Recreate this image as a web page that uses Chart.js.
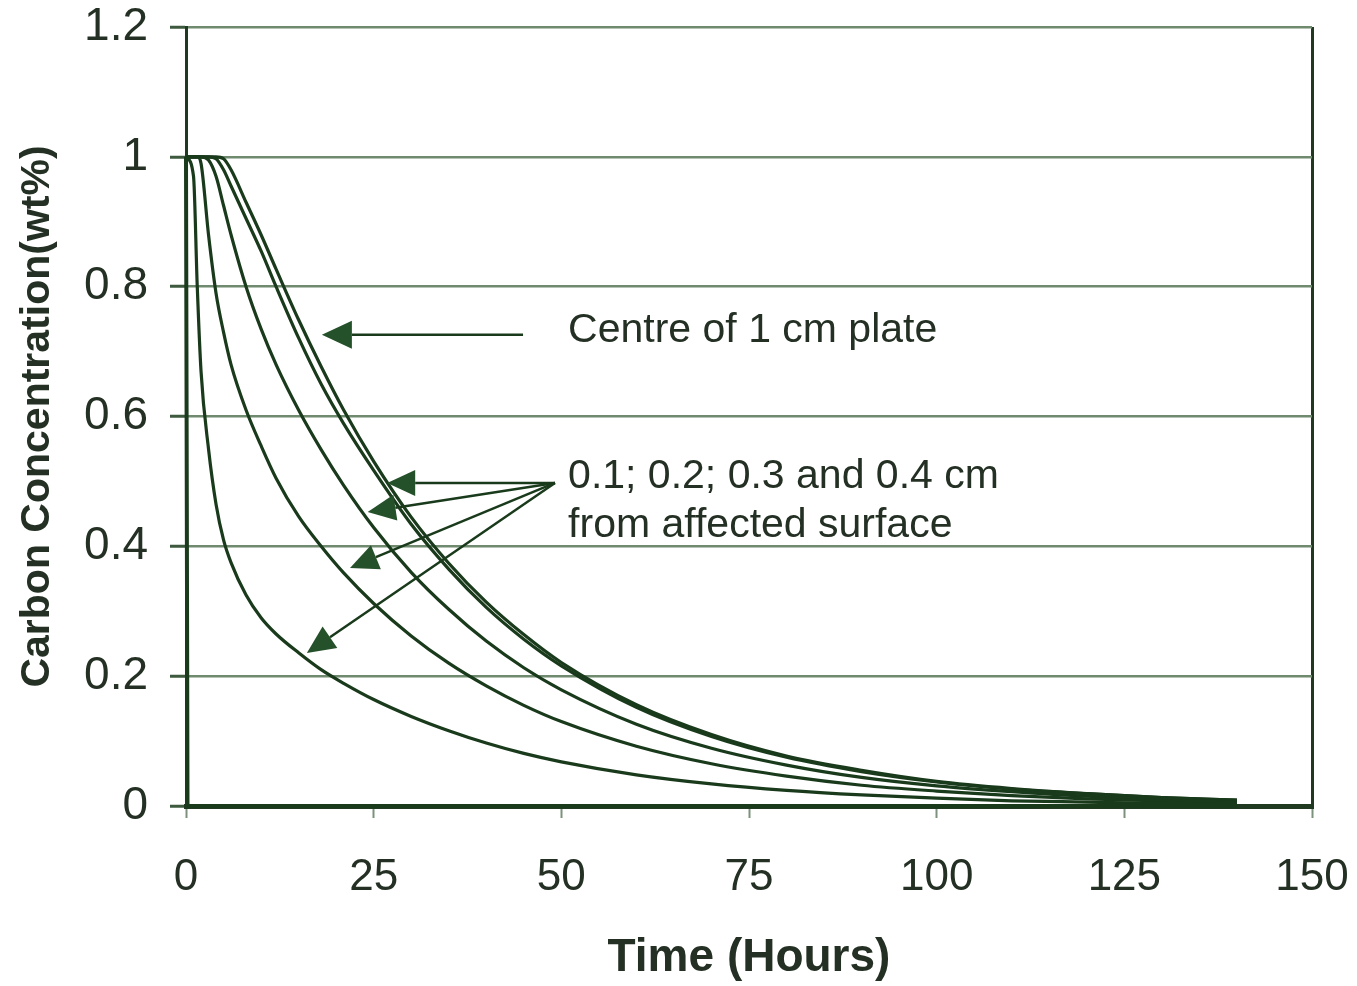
<!DOCTYPE html>
<html>
<head>
<meta charset="utf-8">
<script src="https://cdn.jsdelivr.net/npm/chart.js@4.4.1/dist/chart.umd.min.js"></script>
<style>
  html, body { margin: 0; padding: 0; background: #ffffff; }
  #wrap { width: 1357px; height: 986px; }
</style>
</head>
<body>
<div id="wrap"><canvas id="chart" width="1357" height="986"></canvas></div>
<script>
// ---------- data ----------
const hours = [0, 1, 1.5, 2, 3, 4, 5, 6, 8, 10, 12, 15, 18, 21, 25, 30, 35, 40, 45, 50, 60, 70, 80, 90, 100, 110, 120, 130, 140];
const depth01cm = [1, 0.97, 0.80, 0.67, 0.55, 0.465, 0.41, 0.375, 0.325, 0.29, 0.265, 0.236, 0.21, 0.189, 0.164, 0.138, 0.116, 0.097, 0.081, 0.068, 0.048, 0.034, 0.024, 0.017, 0.012, 0.008, 0.006, 0.004, 0.003];
const depth02cm = [1, 1, 1, 0.99, 0.88, 0.79, 0.73, 0.68, 0.61, 0.555, 0.505, 0.446, 0.40, 0.359, 0.312, 0.262, 0.220, 0.185, 0.155, 0.130, 0.092, 0.065, 0.046, 0.032, 0.023, 0.016, 0.011, 0.008, 0.006];
const depth03cm = [1, 1, 1, 1, 0.995, 0.97, 0.925, 0.88, 0.80, 0.735, 0.68, 0.61, 0.549, 0.494, 0.429, 0.360, 0.303, 0.254, 0.213, 0.179, 0.126, 0.089, 0.063, 0.044, 0.031, 0.022, 0.015, 0.011, 0.008];
const depth04cm = [1, 1, 1, 1, 1, 0.997, 0.98, 0.955, 0.905, 0.855, 0.80, 0.721, 0.650, 0.589, 0.517, 0.434, 0.365, 0.306, 0.257, 0.216, 0.152, 0.107, 0.075, 0.053, 0.037, 0.026, 0.019, 0.013, 0.009];
const centre05cm = [1, 1, 1, 1, 1, 1, 0.997, 0.98, 0.93, 0.88, 0.827, 0.749, 0.677, 0.610, 0.531, 0.445, 0.374, 0.314, 0.264, 0.221, 0.156, 0.110, 0.077, 0.055, 0.038, 0.027, 0.019, 0.013, 0.009];
const surfaceHours = [0, 0.2, 140];
const surfaceValues = [1, 0, 0];
const xTickLabels = ['0', '25', '50', '75', '100', '125', '150'];
const yTickLabels = ['0', '0.2', '0.4', '0.6', '0.8', '1', '1.2'];

// ---------- styles ----------
const FONT = '"Liberation Sans", Arial, Helvetica, sans-serif';
const TEXT = '#243024';
const CURVE = '#1a3a1c';
const GRID = '#6f8a6f';
const AXIS = '#1f3a21';

const pts = (xs, ys) => xs.map((t, i) => ({ x: t, y: ys[i] }));
const curve = (label, ys) => ({
  label, data: pts(hours, ys), borderColor: CURVE, borderWidth: 3.2,
  pointRadius: 0, fill: false, cubicInterpolationMode: 'monotone'
});

function drawArrow(ctx, x0, y0, x1, y1, L, W) {
  const dx = x1 - x0, dy = y1 - y0, len = Math.hypot(dx, dy);
  const ux = dx / len, uy = dy / len;
  const bx = x1 - ux * L, by = y1 - uy * L;
  ctx.beginPath(); ctx.moveTo(x0, y0); ctx.lineTo(bx, by); ctx.stroke();
  ctx.beginPath();
  ctx.moveTo(x1, y1);
  ctx.lineTo(bx - uy * W, by + ux * W);
  ctx.lineTo(bx + uy * W, by - ux * W);
  ctx.closePath(); ctx.fill();
}

const notes = {
  id: 'notes',
  afterDatasetsDraw(chart) {
    const { ctx, scales: { x, y } } = chart;
    const px = v => x.getPixelForValue(v), py = v => y.getPixelForValue(v);
    ctx.save();
    ctx.strokeStyle = CURVE; ctx.fillStyle = '#24502a'; ctx.lineWidth = 2.5;
    drawArrow(ctx, px(44.9), py(0.726), px(18.1), py(0.726), 30, 14);
    const ox = 49.15, oy = 0.4977;
    [[26.8, 0.4977], [24.2, 0.453], [21.85, 0.3667], [16.1, 0.2357]].forEach(([tx, ty]) =>
      drawArrow(ctx, px(ox), py(oy), px(tx), py(ty), 28, 13));
    ctx.fillStyle = TEXT;
    ctx.font = '41px ' + FONT;
    ctx.textAlign = 'left'; ctx.textBaseline = 'alphabetic';
    ctx.fillText('Centre of 1 cm plate', px(50.9), py(0.715));
    ctx.fillText('0.1; 0.2; 0.3 and 0.4 cm', px(50.9), py(0.49));
    ctx.fillText('from affected surface', px(50.9), py(0.4145));
    ctx.restore();
  }
};

new Chart(document.getElementById('chart'), {
  type: 'line',
  data: {
    datasets: [
      { label: 'surface', data: pts(surfaceHours, surfaceValues), borderColor: CURVE, borderWidth: 4,
        pointRadius: 0, fill: false, tension: 0, clip: false },
      curve('0.1 cm', depth01cm),
      curve('0.2 cm', depth02cm),
      curve('0.3 cm', depth03cm),
      curve('0.4 cm', depth04cm),
      curve('Centre (0.5 cm)', centre05cm)
    ]
  },
  options: {
    responsive: false,
    animation: false,
    devicePixelRatio: 1,
    layout: { padding: { left: 0, right: 45, top: 27, bottom: 0 } },
    plugins: { legend: { display: false }, tooltip: { enabled: false } },
    scales: {
      x: {
        type: 'linear', min: 0, max: 150,
        afterFit: s => { s.height = 180; s.paddingLeft = 0; s.paddingRight = 0; },
        ticks: {
          stepSize: 25, color: TEXT, padding: 33, maxRotation: 0,
          font: { family: FONT, size: 44 },
          callback: (v) => xTickLabels[Math.round(v / 25)]
        },
        grid: {
          color: c => (c.tick && c.tick.value === 150) ? AXIS : 'rgba(0,0,0,0)',
          lineWidth: 3, tickLength: 12, tickColor: '#7d927d', tickWidth: 2
        },
        border: { display: true, color: AXIS, width: 5 },
        title: {
          display: true, text: 'Time (Hours)', color: TEXT,
          font: { family: FONT, size: 46, weight: 'bold' }, padding: { top: 0, bottom: 0 }
        }
      },
      y: {
        min: 0, max: 1.2,
        afterFit: s => { s.width = 186; s.paddingTop = 0; s.paddingBottom = 0; },
        ticks: {
          stepSize: 0.2, color: TEXT, padding: 22,
          font: { family: FONT, size: 46 },
          callback: (v) => yTickLabels[Math.round(v / 0.2)]
        },
        grid: { color: GRID, lineWidth: 2.5, tickLength: 16, tickColor: '#3e5a3e', tickWidth: 3 },
        border: { display: true, color: AXIS, width: 3 },
        title: {
          display: true, text: 'Carbon Concentration(wt%)', color: TEXT,
          font: { family: FONT, size: 41, weight: 'bold' }, padding: { top: 13, bottom: 0 }
        }
      }
    }
  },
  plugins: [notes]
});
</script>
</body>
</html>
